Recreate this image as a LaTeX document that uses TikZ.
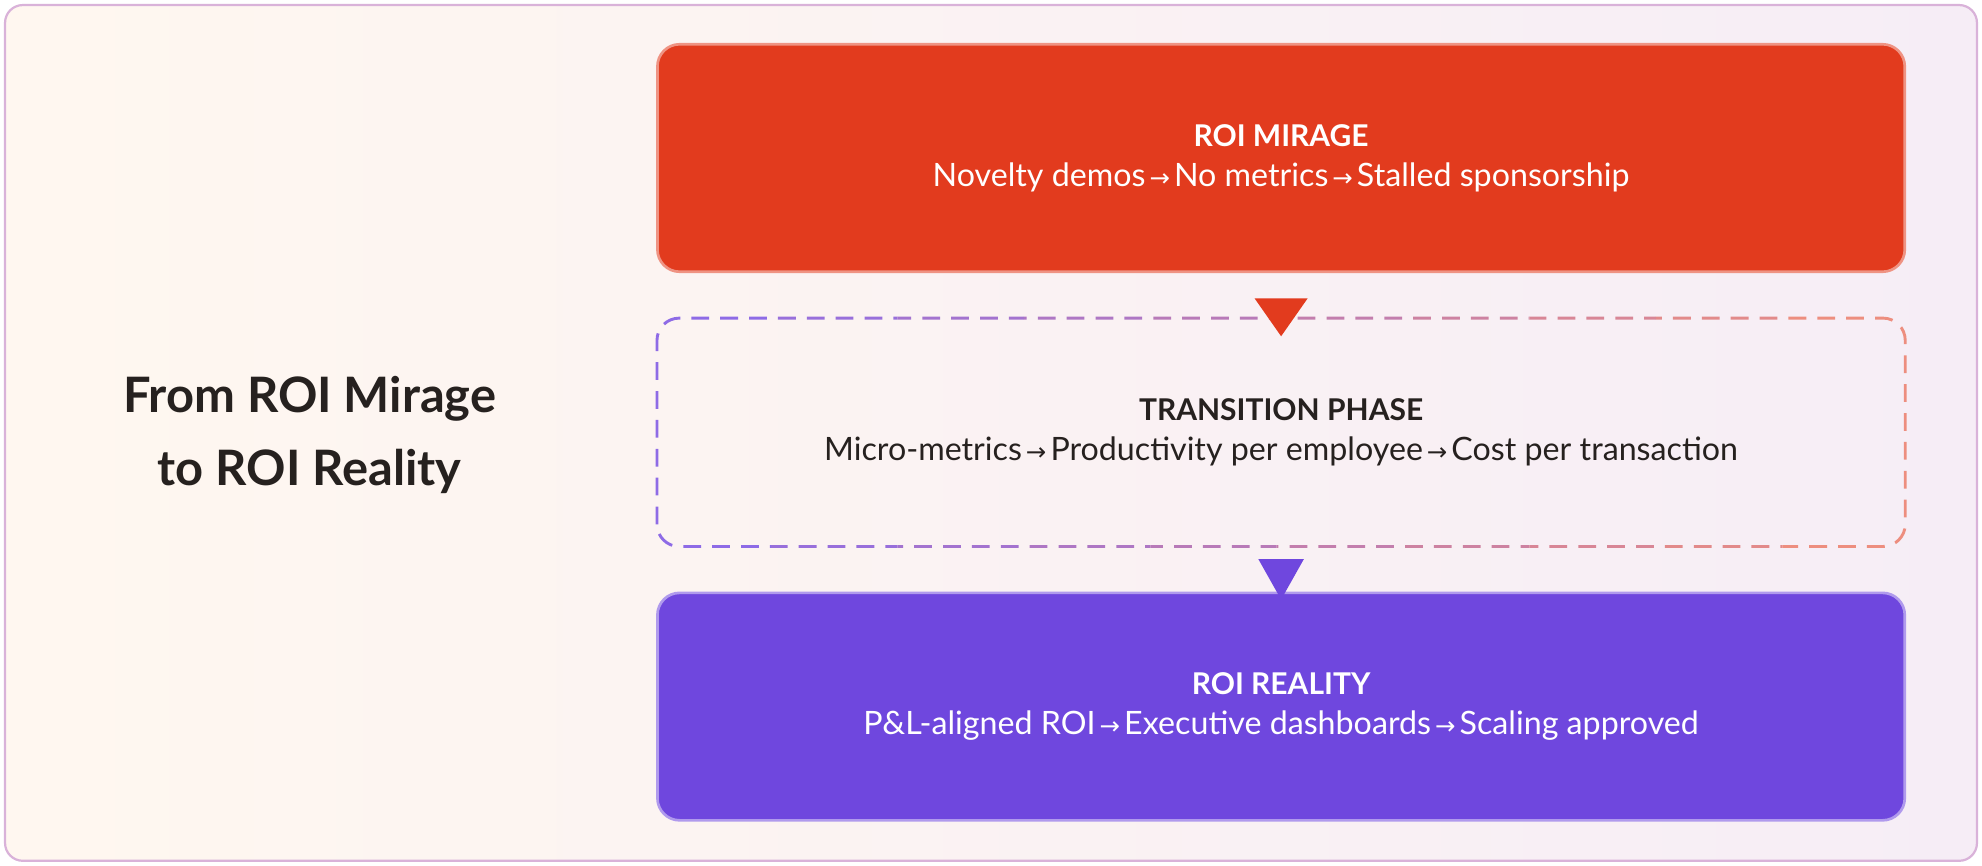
\documentclass[tikz,border=0pt]{standalone}
\usepackage{fontspec}
\setmainfont{Lato}
\newfontfamily\arrfont{DejaVu Sans}
\newcommand{\arr}{{\arrfont\fontsize{11pt}{13pt}\selectfont\,→\,}}
\usetikzlibrary{positioning}
\definecolor{mirage}{HTML}{E23B1E}
\definecolor{reality}{HTML}{6F47DE}
\definecolor{dashpurple}{HTML}{8E6BE6}
\definecolor{dashsalmon}{HTML}{EE8E7E}
\definecolor{titleink}{HTML}{26211F}
\tikzset{
  phase/.style={rounded corners=10pt, minimum width=19.74cm, minimum height=3.6cm, align=center},
  heading/.style={font=\bfseries\fontsize{13.5pt}{16pt}\selectfont},
  detail/.style={font=\fontsize{14.5pt}{17pt}\selectfont}
}
\begin{document}
\begin{tikzpicture}[x=0.02cm, y=-0.02cm]
  \useasboundingbox (0,0) rectangle (1568,685);
  % background
  \shade[rounded corners=8pt, shading angle=45, left color=orange!6, right color=violet!7]
    (4,4) rectangle (1564,681);
  \draw[violet!30, line width=1pt, rounded corners=8pt] (4,4) rectangle (1564,681);
  % boxes
  \node[phase, fill=mirage, draw=mirage!55!white, line width=1.2pt, text=white] (mirage) at (1013.5,125)
    {{\bfseries\fontsize{13.5pt}{16pt}\selectfont ROI MIRAGE}\\[6pt]
     {\fontsize{14.5pt}{17pt}\selectfont Novelty demos\arr No metrics\arr Stalled sponsorship}};
  \node[phase, text=titleink] (transition) at (1013.5,342)
    {{\bfseries\fontsize{13.5pt}{16pt}\selectfont TRANSITION PHASE}\\[6pt]
     {\fontsize{14.5pt}{17pt}\selectfont Micro-metrics\arr Productivity per employee\arr Cost per transaction}};
  \node[phase, fill=reality, draw=reality!55!white, line width=1.2pt, text=white] (reality) at (1013.5,559)
    {{\bfseries\fontsize{13.5pt}{16pt}\selectfont ROI REALITY}\\[6pt]
     {\fontsize{14.5pt}{17pt}\selectfont P\&L-aligned ROI\arr Executive dashboards\arr Scaling approved}};
  % dashed border with colour running from left to right
  \foreach \i in {0,...,9} {
    \pgfmathsetmacro{\mixval}{100-\i*11}
    \begin{scope}
      \clip (510+\i*100,240) rectangle (610+\i*100,445);
      \draw[dashpurple!\mixval!dashsalmon, line width=1.3pt, dash pattern=on 8pt off 5pt, rounded corners=10pt]
        (transition.south west) rectangle (transition.north east);
    \end{scope}
  }
  % arrows between phases
  \fill[mirage] ([yshift=-0.4cm]mirage.south) ++(-21,0) -- ++(42,0) -- ++(-21,30) -- cycle;
  \fill[reality] ([yshift=-0.2cm]transition.south) ++(-18,0) -- ++(36,0) -- ++(-18,32) -- cycle;
  % title
  \node[align=center, text=titleink, font=\bfseries\fontsize{22pt}{33pt}\selectfont] (title) at (245,344)
    {From ROI Mirage\\to ROI Reality};
\end{tikzpicture}
\end{document}
